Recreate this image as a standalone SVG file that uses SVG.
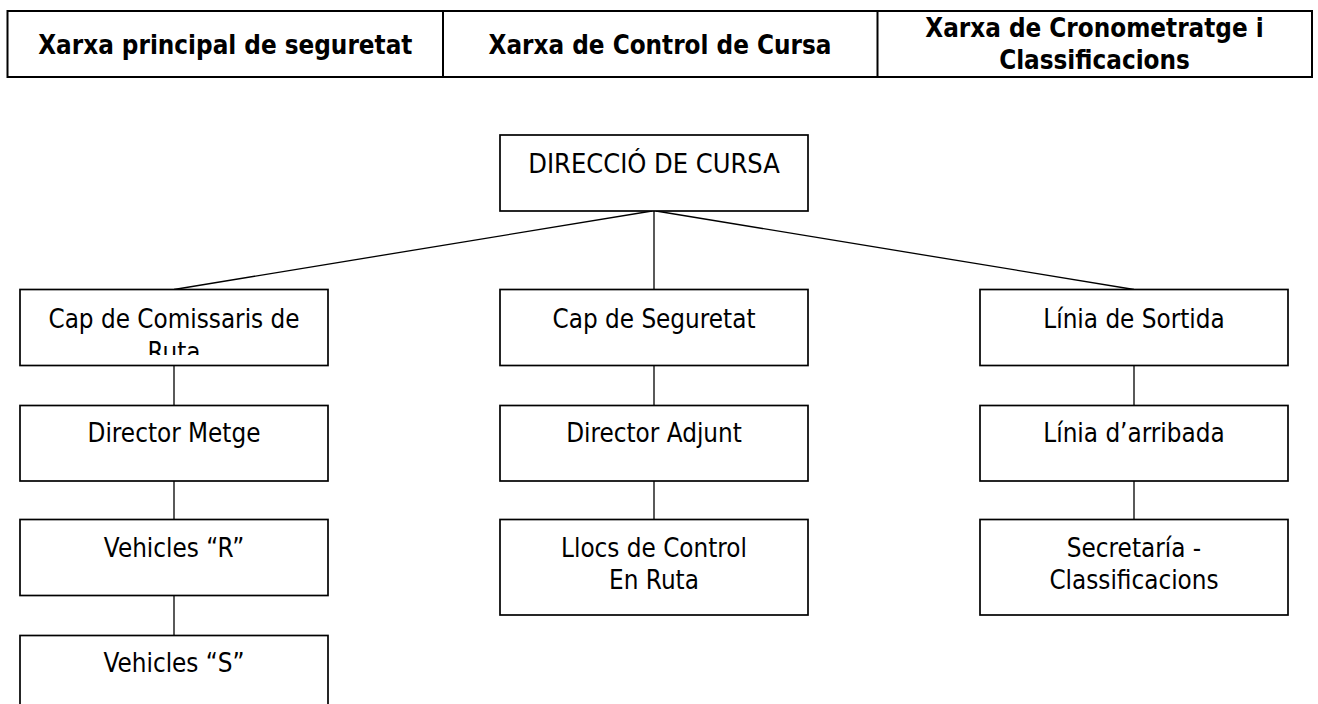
<svg xmlns="http://www.w3.org/2000/svg" width="1318" height="704" viewBox="0 0 1318 704">
<defs>
<style>
.hdr{fill:none;stroke:#000;stroke-width:2}
.hdrt{font-family:"DejaVu Sans","Liberation Sans",sans-serif;font-weight:bold;font-size:26.67px;fill:#000;text-anchor:middle;transform-box:fill-box;transform-origin:center;transform:scaleX(0.87)}
.box{fill:#fff;stroke:#000;stroke-width:1.7}
.t{font-family:"DejaVu Sans","Liberation Sans",sans-serif;font-size:26.67px;fill:#000;text-anchor:middle;transform-box:fill-box;transform-origin:center;transform:scaleX(0.87)}
.t.caps{transform:scaleX(0.91)}
.con{stroke:#000;stroke-width:1.3;fill:none}
</style>
<clipPath id="clipRuta"><rect x="20" y="289" width="308" height="66"/></clipPath>
</defs>
<rect width="1318" height="704" fill="#fff"/>
<g id="header">
<rect class="hdr" x="7.5" y="11" width="1304.5" height="66"/>
<line class="hdr" x1="443" y1="11" x2="443" y2="77"/>
<line class="hdr" x1="877.5" y1="11" x2="877.5" y2="77"/>
<text class="hdrt" x="225.3" y="54.5">Xarxa principal de seguretat</text>
<text class="hdrt" x="660" y="54.5">Xarxa de Control de Cursa</text>
<text class="hdrt" x="1094.5" y="37.5">Xarxa de Cronometratge i</text>
<text class="hdrt" x="1094.5" y="69.5">Classificacions</text>
</g>
<g id="connectors">
<line class="con" x1="654" y1="211" x2="654" y2="289.5"/>
<line class="con" x1="652" y1="211" x2="174" y2="289.5"/>
<line class="con" x1="656" y1="211" x2="1134" y2="289.5"/>
<line class="con" x1="174" y1="365.5" x2="174" y2="405.5"/>
<line class="con" x1="174" y1="481" x2="174" y2="519.5"/>
<line class="con" x1="174" y1="595.5" x2="174" y2="635.5"/>
<line class="con" x1="654" y1="365.5" x2="654" y2="405.5"/>
<line class="con" x1="654" y1="481" x2="654" y2="519.5"/>
<line class="con" x1="1134" y1="365.5" x2="1134" y2="405.5"/>
<line class="con" x1="1134" y1="481" x2="1134" y2="519.5"/>
</g>
<g id="direccio">
<rect class="box" x="500" y="135" width="308" height="76"/>
<text class="t caps" x="654" y="173.3">DIRECCIÓ DE CURSA</text>
</g>
<g id="cap-comissaris">
<rect class="box" x="20" y="289.5" width="308" height="76"/>
<text class="t" x="174" y="327.7">Cap de Comissaris de</text>
<g clip-path="url(#clipRuta)"><text class="t" x="174" y="361">Ruta</text></g>
</g>
<g id="director-metge">
<rect class="box" x="20" y="405.5" width="308" height="75.5"/>
<text class="t" x="174" y="442.5">Director Metge</text>
</g>
<g id="vehicles-r">
<rect class="box" x="20" y="519.5" width="308" height="76"/>
<text class="t" x="174" y="557">Vehicles “R”</text>
</g>
<g id="vehicles-s">
<rect class="box" x="20" y="635.5" width="308" height="76"/>
<text class="t" x="174" y="672">Vehicles “S”</text>
</g>
<g id="cap-seguretat">
<rect class="box" x="500" y="289.5" width="308" height="76"/>
<text class="t" x="654" y="327.7">Cap de Seguretat</text>
</g>
<g id="director-adjunt">
<rect class="box" x="500" y="405.5" width="308" height="75.5"/>
<text class="t" x="654" y="442.5">Director Adjunt</text>
</g>
<g id="llocs-control">
<rect class="box" x="500" y="519.5" width="308" height="95.5"/>
<text class="t" x="654" y="556.7">Llocs de Control</text>
<text class="t" x="654" y="589">En Ruta</text>
</g>
<g id="linia-sortida">
<rect class="box" x="980" y="289.5" width="308" height="76"/>
<text class="t" x="1134" y="327.7">Línia de Sortida</text>
</g>
<g id="linia-arribada">
<rect class="box" x="980" y="405.5" width="308" height="75.5"/>
<text class="t" x="1134" y="442.5">Línia d’arribada</text>
</g>
<g id="secretaria">
<rect class="box" x="980" y="519.5" width="308" height="95.5"/>
<text class="t" x="1134" y="556.7">Secretaría -</text>
<text class="t" x="1134" y="589">Classificacions</text>
</g>
</svg>
